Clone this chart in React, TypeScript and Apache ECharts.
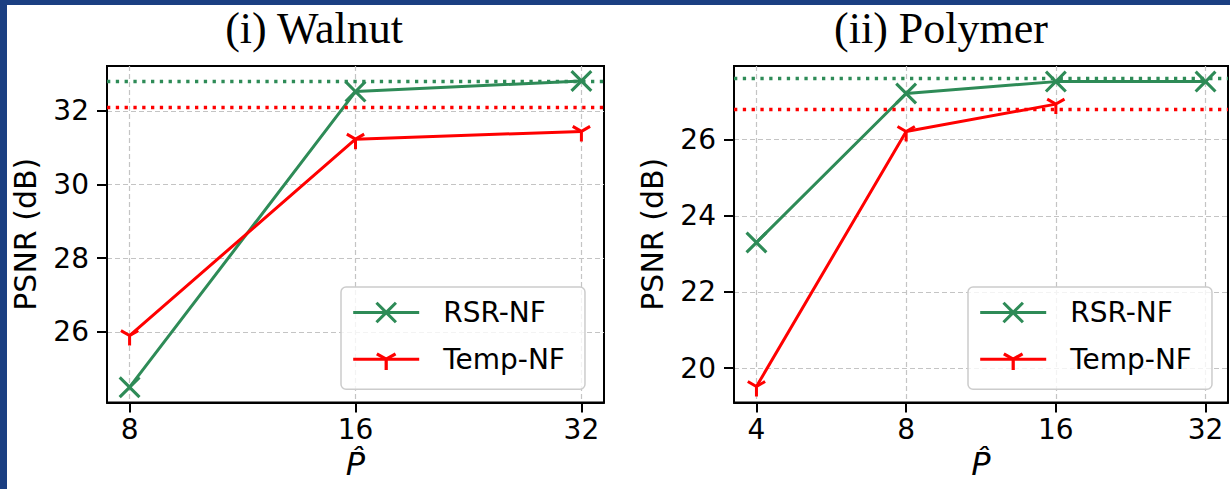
import React, { useEffect, useRef } from 'react';
import * as echarts from 'echarts';

// ---------- data ----------
const seriesNames = ['RSR-NF', 'Temp-NF'];
const titles = ['(i) Walnut', '(ii) Polymer'];

const walnutP = [8, 16, 32];
const walnutRSR = [24.5, 32.52, 32.81];
const walnutTemp = [25.9, 31.23, 31.44];
const walnutRefRSR = 32.81;
const walnutRefTemp = 32.1;

const polymerP = [4, 8, 16, 32];
const polymerRSR = [23.3, 27.21, 27.52, 27.52];
const polymerTemp = [19.52, 26.21, 26.93];
const polymerRefRSR = 27.62;
const polymerRefTemp = 26.79;

const walnutTicksX = [8, 16, 32];
const polymerTicksX = [4, 8, 16, 32];
const walnutTicksY = [26, 28, 30, 32];
const polymerTicksY = [20, 22, 24, 26];

// ---------- styles ----------
const GREEN = '#2e8b57';
const RED = '#ff0000';
const BLUE = '#1b3f82';
const SANS = 'DejaVu Sans';
const FS = 28;

const X_PATH =
  'path://M0 10 L10 0 L50 40 L90 0 L100 10 L60 50 L100 90 L90 100 L50 60 L10 100 L0 90 L40 50 Z';

function triDownPath(r: number, h: number) {
  const s = Math.sin(Math.PI / 3);
  const dirs = [
    [0, 1],
    [-s, -0.5],
    [s, -0.5],
  ];
  let d = '';
  for (const [dx, dy] of dirs) {
    const px = -dy;
    const py = dx;
    const b = -h * 0.6;
    const pts = [
      [px * h + dx * b, py * h + dy * b],
      [px * h + dx * r, py * h + dy * r],
      [-px * h + dx * r, -py * h + dy * r],
      [-px * h + dx * b, -py * h + dy * b],
    ];
    d += 'M' + pts.map((p) => p[0].toFixed(3) + ' ' + p[1].toFixed(3)).join(' L') + ' Z ';
  }
  d += `M${-r} ${-r} M${r} ${r}`;
  return 'path://' + d;
}
const Y_PATH = triDownPath(10, 1.5);

function makeXAxis(gridIndex: number, min: number, max: number, ticks: number[]) {
  return {
    type: 'log',
    logBase: 2,
    gridIndex,
    min,
    max,
    axisLine: { show: true, lineStyle: { color: '#000', width: 2 } },
    axisTick: { show: true, length: 10, lineStyle: { color: '#000', width: 2 }, customValues: ticks },
    axisLabel: {
      customValues: ticks,
      fontFamily: SANS,
      fontSize: FS,
      color: '#000',
      margin: 13,
      formatter: (v: number) => String(Math.round(v)),
    },
    splitLine: { show: true, lineStyle: { type: [5, 3], color: '#c4c4c4', width: 1.2 } },
    minorTick: { show: false },
    minorSplitLine: { show: false },
    name: 'P\u0302',
    nameLocation: 'middle',
    nameGap: 38,
    nameTextStyle: { fontFamily: SANS, fontSize: 32, fontStyle: 'italic', color: '#000' },
  };
}

function makeYAxis(gridIndex: number, min: number, max: number, ticks: number[]) {
  return {
    type: 'value',
    gridIndex,
    min,
    max,
    axisLine: { show: true, lineStyle: { color: '#000', width: 2 } },
    axisTick: { show: true, length: 10, lineStyle: { color: '#000', width: 2 }, customValues: ticks },
    axisLabel: {
      customValues: ticks,
      fontFamily: SANS,
      fontSize: FS,
      color: '#000',
      margin: 18,
      formatter: (v: number) => String(Math.round(v)),
    },
    splitLine: { show: true, lineStyle: { type: [5, 3], color: '#c4c4c4', width: 1.2 } },
    name: 'PSNR (dB)',
    nameLocation: 'middle',
    nameRotate: 90,
    nameGap: 67,
    nameTextStyle: { fontFamily: SANS, fontSize: 30, color: '#000' },
  };
}

function refLine(value: number, color: string) {
  return {
    silent: true,
    symbol: ['none', 'none'],
    label: { show: false },
    lineStyle: { type: [3.3, 5.5], width: 3.3, color, opacity: 1 },
    emphasis: { disabled: true },
    data: [{ yAxis: value }],
  };
}

function lineSeries(
  name: string,
  idx: number,
  xs: number[],
  ys: number[],
  color: string,
  symbol: string,
  ref: number
) {
  return {
    type: 'line',
    name,
    xAxisIndex: idx,
    yAxisIndex: idx,
    data: ys.map((y, i) => [xs[i], y]),
    symbol,
    symbolSize: symbol === X_PATH ? 22 : 20,
    showAllSymbol: true,
    color,
    lineStyle: { width: 3, color },
    itemStyle: { color },
    emphasis: { disabled: true },
    markLine: refLine(ref, color),
  };
}

function makeLegend(left: number) {
  return {
    left,
    top: 287,
    orient: 'vertical',
    data: seriesNames,
    itemWidth: 66,
    itemHeight: 27,
    itemGap: 18.7,
    padding: [11.5, 20, 16, 10.7],
    backgroundColor: 'rgba(255,255,255,0.8)',
    borderColor: '#cccccc',
    borderWidth: 1.5,
    borderRadius: 5,
    selectedMode: false,
    lineStyle: { width: 3 },
    textStyle: {
      fontFamily: SANS,
      fontSize: FS,
      color: '#000',
      lineHeight: 27,
      padding: [0, 0, 0, 19],
    },
  };
}

export default function App() {
  const ref = useRef<HTMLDivElement>(null);
  useEffect(() => {
    if (!ref.current) return;
    const chart = echarts.init(ref.current, undefined, { renderer: 'svg' });
    chart.setOption({
      animation: false,
      backgroundColor: '#ffffff',
      grid: [
        { left: 107, top: 66, width: 497, height: 336.5, show: true, borderColor: '#000', borderWidth: 2, backgroundColor: 'transparent' },
        { left: 734, top: 66, width: 494, height: 336.5, show: true, borderColor: '#000', borderWidth: 2, backgroundColor: 'transparent' },
      ],
      xAxis: [
        makeXAxis(0, Math.pow(2, 2.9), Math.pow(2, 5.1), walnutTicksX),
        makeXAxis(1, Math.pow(2, 1.85), Math.pow(2, 5.15), polymerTicksX),
      ],
      yAxis: [
        makeYAxis(0, 24.085, 33.215, walnutTicksY),
        makeYAxis(1, 19.1, 27.93, polymerTicksY),
      ],
      legend: [makeLegend(341), makeLegend(968)],
      series: [
        lineSeries(seriesNames[0], 0, walnutP, walnutRSR, GREEN, X_PATH, walnutRefRSR),
        lineSeries(seriesNames[1], 0, walnutP, walnutTemp, RED, Y_PATH, walnutRefTemp),
        lineSeries(seriesNames[0], 1, polymerP, polymerRSR, GREEN, X_PATH, polymerRefRSR),
        lineSeries(seriesNames[1], 1, polymerP, polymerTemp, RED, Y_PATH, polymerRefTemp),
      ],
      graphic: [
        { type: 'rect', shape: { x: 0, y: 0, width: 1230, height: 5 }, style: { fill: BLUE }, z: 100 },
        { type: 'rect', shape: { x: 0, y: 0, width: 7, height: 489 }, style: { fill: BLUE }, z: 100 },
        {
          type: 'text',
          x: 314,
          y: 28,
          style: { text: titles[0], font: '44px "Liberation Serif"', fill: '#000', align: 'center', verticalAlign: 'middle', textAlign: 'center', textVerticalAlign: 'middle' },
        },
        {
          type: 'text',
          x: 941,
          y: 28,
          style: { text: titles[1], font: '44px "Liberation Serif"', fill: '#000', align: 'center', verticalAlign: 'middle', textAlign: 'center', textVerticalAlign: 'middle' },
        },
      ],
    });
    return () => chart.dispose();
  }, []);
  return (
    <div
      ref={ref}
      style={{ position: 'absolute', left: 0, top: 0, width: 1230, height: 489, background: '#fff' }}
    />
  );
}
